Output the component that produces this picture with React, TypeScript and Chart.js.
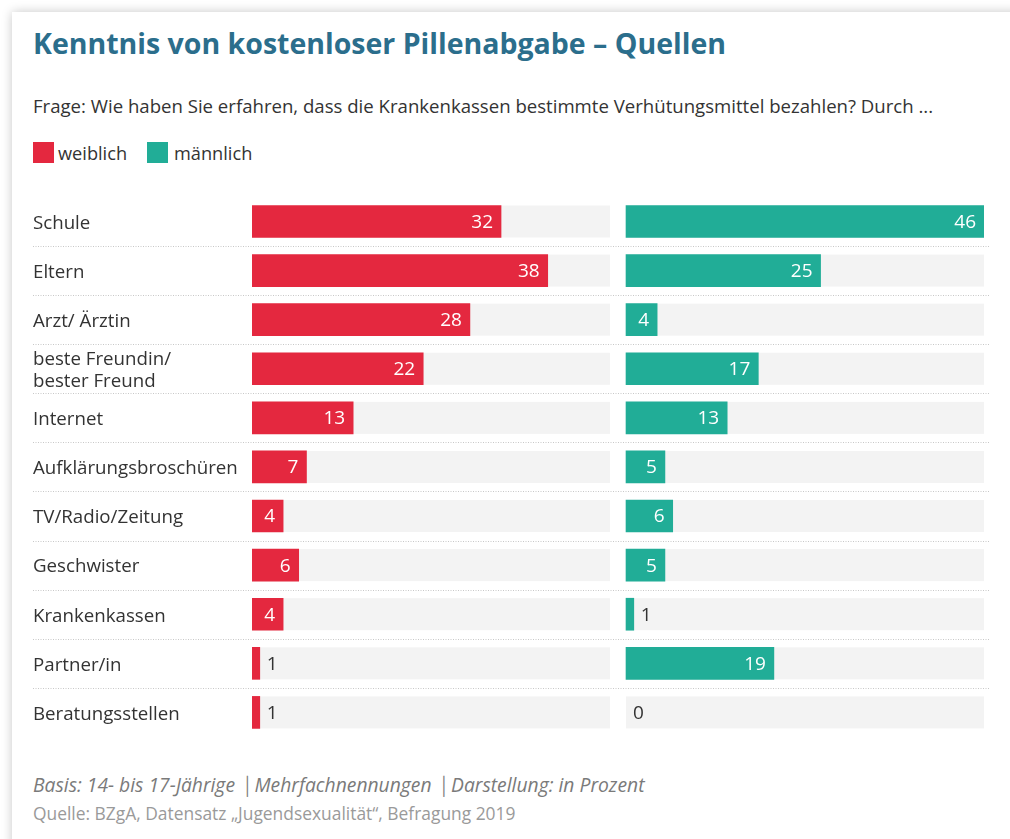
import React, { useEffect, useRef } from "react";
import { Chart, registerables } from "chart.js";

Chart.register(...registerables);

const categories: (string | string[])[] = [
  "Schule",
  "Eltern",
  "Arzt/ Ärztin",
  ["beste Freundin/", "bester Freund"],
  "Internet",
  "Aufklärungsbroschüren",
  "TV/Radio/Zeitung",
  "Geschwister",
  "Krankenkassen",
  "Partner/in",
  "Beratungsstellen",
];
const weiblich = [32, 38, 28, 22, 13, 7, 4, 6, 4, 1, 1];
const maennlich = [46, 25, 4, 17, 13, 5, 6, 5, 1, 19, 0];
const seriesNames = ["weiblich", "männlich"];
const panelMax = 46;

const TITLE = "Kenntnis von kostenloser Pillenabgabe – Quellen";
const SUBTITLE =
  "Frage: Wie haben Sie erfahren, dass die Krankenkassen bestimmte Verhütungsmittel bezahlen? Durch ...";
const NOTE = "Basis: 14- bis 17-Jährige │Mehrfachnennungen │Darstellung: in Prozent";
const SOURCE = "Quelle: BZgA, Datensatz „Jugendsexualität“, Befragung 2019";

const RED = "#e4283f";
const TEAL = "#21ad97";
const TRACK = "#f3f3f3";
const FONT = "'Open Sans', Lato, sans-serif";
const PANEL_GAP = 2.06; // gap between the two panels, in value units
const MALE_OFFSET = panelMax + PANEL_GAP;

const decorPlugin = {
  id: "decor",
  beforeDatasetsDraw(chart: any) {
    const ctx = chart.ctx;
    const x = chart.scales.x;
    const els = chart.getDatasetMeta(0).data;
    ctx.save();
    ctx.strokeStyle = "#c8c8c8";
    ctx.lineWidth = 1;
    ctx.setLineDash([1, 1.5]);
    for (let i = 0; i < els.length - 1; i++) {
      const y = Math.round((els[i].y + els[i + 1].y) / 2) + 0.5;
      ctx.beginPath();
      ctx.moveTo(33, y);
      ctx.lineTo(990, y);
      ctx.stroke();
    }
    ctx.setLineDash([]);
    ctx.fillStyle = TRACK;
    const a0 = x.getPixelForValue(0);
    const a1 = x.getPixelForValue(panelMax);
    const b0 = x.getPixelForValue(MALE_OFFSET);
    const b1 = x.getPixelForValue(MALE_OFFSET + panelMax);
    for (let i = 0; i < els.length; i++) {
      const h = els[i].height;
      const top = els[i].y - h / 2;
      ctx.fillRect(a0, top, a1 - a0, h);
      ctx.fillRect(b0, top, b1 - b0, h);
    }
    ctx.restore();
  },
  afterDatasetsDraw(chart: any) {
    const ctx = chart.ctx;
    ctx.save();
    ctx.font = `400 19px ${FONT}`;
    ctx.textBaseline = "middle";
    const vals = [weiblich, maennlich];
    for (let d = 0; d < 2; d++) {
      const els = chart.getDatasetMeta(d).data;
      els.forEach((el: any, i: number) => {
        const v = vals[d][i];
        const txt = String(v);
        const yy = el.y + 1;
        if (v >= 3) {
          ctx.fillStyle = "#ffffff";
          ctx.textAlign = "right";
          ctx.fillText(txt, el.x - 8, yy);
        } else {
          ctx.fillStyle = "#333333";
          ctx.textAlign = "left";
          ctx.fillText(txt, el.x + 7, yy);
        }
      });
    }
    ctx.restore();
  },
};

function BarChart() {
  const ref = useRef<HTMLCanvasElement>(null);
  useEffect(() => {
    if (!ref.current) return;
    const chart = new Chart(ref.current, {
      type: "bar",
      data: {
        labels: categories as any,
        datasets: [
          {
            label: seriesNames[0],
            data: weiblich,
            backgroundColor: RED,
            grouped: false,
            barThickness: 32,
          } as any,
          {
            label: seriesNames[1],
            data: maennlich.map((v) => [MALE_OFFSET, MALE_OFFSET + v]),
            backgroundColor: maennlich.map((v) => (v > 0 ? TEAL : "rgba(0,0,0,0)")),
            grouped: false,
            barThickness: 32,
          } as any,
        ],
      },
      options: {
        indexAxis: "y",
        animation: false,
        responsive: false,
        maintainAspectRatio: false,
        layout: { padding: { left: 33, right: 26, top: 12.95, bottom: 13.05 } },
        scales: {
          x: { type: "linear", min: 0, max: MALE_OFFSET + panelMax, display: false },
          y: {
            type: "category",
            grid: { display: false },
            border: { display: false },
            ticks: {
              crossAlign: "far",
              color: "#333333",
              padding: 0,
              labelOffset: 2,
              font: { family: FONT, size: 18.7, lineHeight: 1.18 },
            },
            afterFit: (s: any) => {
              s.width = 219;
            },
          },
        },
        plugins: {
          legend: { display: false },
          tooltip: { enabled: false },
        },
      },
      plugins: [decorPlugin],
    });
    return () => chart.destroy();
  }, []);
  return (
    <canvas
      ref={ref}
      width={1010}
      height={566}
      style={{ position: "absolute", left: 0, top: 184, width: 1010, height: 566 }}
    />
  );
}

function Txt(props: { x: number; baseline: number; size: number; style?: React.CSSProperties; children: React.ReactNode }) {
  const { x, baseline, size, style, children } = props;
  return (
    <div
      style={{
        position: "absolute",
        left: x,
        top: baseline - 0.888 * size,
        fontSize: size,
        lineHeight: `${size}px`,
        fontFamily: FONT,
        whiteSpace: "nowrap",
        ...style,
      }}
    >
      {children}
    </div>
  );
}

export default function App() {
  return (
    <div
      style={{
        position: "absolute",
        left: 0,
        top: 0,
        width: 1010,
        height: 839,
        overflow: "hidden",
        background: "#ffffff",
      }}
    >
      <div
        style={{
          position: "absolute",
          left: 12,
          top: 12,
          width: 1040,
          height: 900,
          background: "#ffffff",
          boxShadow: "0 0 10px rgba(0,0,0,0.22)",
        }}
      />
      <Txt x={33} baseline={54.3} size={28.5} style={{ color: "#2b6e8c", fontWeight: 700 }}>
        {TITLE}
      </Txt>
      <Txt x={33} baseline={113.5} size={18.6} style={{ color: "#333333" }}>
        {SUBTITLE}
      </Txt>
      <div style={{ position: "absolute", left: 33, top: 142, width: 21, height: 21, background: RED }} />
      <Txt x={58} baseline={160} size={18.2} style={{ color: "#333333" }}>
        {seriesNames[0]}
      </Txt>
      <div style={{ position: "absolute", left: 147, top: 142, width: 21, height: 21, background: TEAL }} />
      <Txt x={174} baseline={160} size={18.2} style={{ color: "#333333" }}>
        {seriesNames[1]}
      </Txt>
      <BarChart />
      <Txt x={33} baseline={792} size={19.3} style={{ color: "#7a7a7a", fontStyle: "italic" }}>
        {NOTE}
      </Txt>
      <Txt x={33} baseline={820.5} size={17.4} style={{ color: "#9a9a9a" }}>
        {SOURCE}
      </Txt>
    </div>
  );
}
